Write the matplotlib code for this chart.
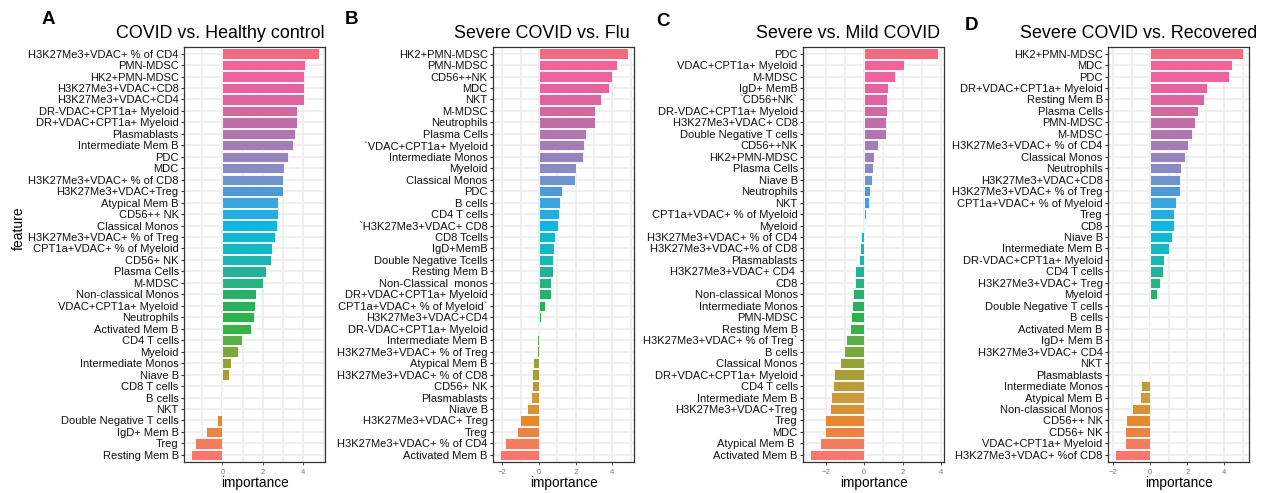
import numpy as np
import matplotlib
matplotlib.use("Agg")
import matplotlib.pyplot as plt
from matplotlib.ticker import MultipleLocator
from matplotlib.colors import LinearSegmentedColormap

plt.rcParams['font.family'] = ['Liberation Sans', 'DejaVu Sans']

# ---------------- data (top to bottom as displayed) ----------------
titles = ["COVID vs. Healthy control", "Severe COVID vs. Flu",
          "Severe vs. Mild COVID", "Severe COVID vs. Recovered"]
letters = ["A", "B", "C", "D"]

labels_A = ["H3K27Me3+VDAC+ % of CD4", "PMN-MDSC", "HK2+PMN-MDSC", "H3K27Me3+VDAC+CD8",
            "H3K27Me3+VDAC+CD4", "DR-VDAC+CPT1a+ Myeloid", "DR+VDAC+CPT1a+ Myeloid",
            "Plasmablasts", "Intermediate Mem B", "PDC", "MDC", "H3K27Me3+VDAC+ % of CD8",
            "H3K27Me3+VDAC+Treg", "Atypical Mem B", "CD56++ NK", "Classical Monos",
            "H3K27Me3+VDAC+ % of Treg", "CPT1a+VDAC+ % of Myeloid", "CD56+ NK",
            "Plasma Cells", "M-MDSC", "Non-classical Monos", "VDAC+CPT1a+ Myeloid",
            "Neutrophils", "Activated Mem B", "CD4 T cells", "Myeloid",
            "Intermediate Monos", "Niave B", "CD8 T cells", "B cells", "NKT",
            "Double Negative T cells", "IgD+ Mem B", "Treg", "Resting Mem B"]
values_A = [4.75, 4.08, 4.05, 4.02, 4.02, 3.68, 3.68, 3.61, 3.47, 3.24, 3.03, 3.01,
            2.97, 2.76, 2.74, 2.72, 2.58, 2.43, 2.40, 2.16, 1.99, 1.65, 1.59, 1.56,
            1.43, 0.99, 0.78, 0.41, 0.32, 0.03, -0.03, -0.01, -0.28, -0.81, -1.36, -1.56]

labels_B = ["HK2+PMN-MDSC", "PMN-MDSC", "CD56++NK", "MDC", "NKT", "M-MDSC", "Neutrophils",
            "Plasma Cells", "`VDAC+CPT1a+ Myeloid", "Intermediate Monos", "Myeloid",
            "Classical Monos", "PDC", "B cells", "CD4 T cells", "`H3K27Me3+VDAC+ CD8",
            "CD8 Tcells", "IgD+MemB", "Double Negative Tcells", "Resting Mem B",
            "Non-Classical  monos", "DR+VDAC+CPT1a+ Myeloid", "CPT1a+VDAC+ % of Myeloid`",
            "H3K27Me3+VDAC+CD4", "DR-VDAC+CPT1a+ Myeloid", "Intermediate Mem B",
            "H3K27Me3+VDAC+ % of Treg", "Atypical Mem B", "H3K27Me3+VDAC+ % of CD8",
            "CD56+ NK", "Plasmablasts", "Niave B", "H3K27Me3+VDAC+ Treg", "Treg",
            "H3K27Me3+VDAC+ % of CD4", "Activated Mem B"]
values_B = [4.85, 4.27, 3.98, 3.84, 3.39, 3.05, 3.05, 2.54, 2.43, 2.38, 2.04, 1.95,
            1.23, 1.14, 1.10, 1.03, 0.85, 0.81, 0.77, 0.76, 0.67, 0.67, 0.32, 0.13,
            0.03, -0.11, -0.13, -0.31, -0.38, -0.40, -0.43, -0.67, -1.03, -1.21,
            -1.86, -2.14]

labels_C = ["PDC", "VDAC+CPT1a+ Myeloid", "M-MDSC", "IgD+ MemB", "`CD56+NK`",
            "DR-VDAC+CPT1a+ Myeloid", "H3K27Me3+VDAC+ CD8", "Double Negative T cells",
            "CD56++NK", "HK2+PMN-MDSC", "Plasma Cells", "Niave B", "Neutrophils", "NKT",
            "CPT1a+VDAC+ % of Myeloid", "Myeloid", "H3K27Me3+VDAC+ % of CD4",
            "H3K27Me3+VDAC+% of CD8", "Plasmablasts", "H3K27Me3+VDAC+ CD4 ", "CD8",
            "Non-classical Monos", "Intermediate Monos", "PMN-MDSC", "Resting Mem B",
            "H3K27Me3+VDAC+ % of Treg`", "B cells", "Classical Monos",
            "DR+VDAC+CPT1a+ Myeloid", "CD4 T cells", "Intermediate Mem B",
            "H3K27Me3+VDAC+Treg", "Treg", "MDC", "Atypical Mem B ", "Activated Mem B"]
values_C = [3.81, 2.07, 1.61, 1.23, 1.21, 1.18, 1.16, 1.13, 0.74, 0.51, 0.48, 0.41,
            0.29, 0.26, 0.09, 0.07, -0.14, -0.21, -0.26, -0.46, -0.48, -0.60, -0.65,
            -0.67, -0.74, -0.96, -1.04, -1.23, -1.54, -1.62, -1.74, -1.79, -2.02,
            -2.05, -2.31, -2.82]

labels_D = ["HK2+PMN-MDSC", "MDC", "PDC", "DR+VDAC+CPT1a+ Myeloid", "Resting Mem B",
            "Plasma Cells", "PMN-MDSC", "M-MDSC", "H3K27Me3+VDAC+ % of CD4",
            "Classical Monos", "Neutrophils", "H3K27Me3+VDAC+CD8",
            "H3K27Me3+VDAC+ % of Treg", "CPT1a+VDAC+ % of Myeloid", "Treg", "CD8",
            "Niave B", "Intermediate Mem B", "DR-VDAC+CPT1a+ Myeloid", "CD4 T cells",
            "H3K27Me3+VDAC+ Treg", "Myeloid", "Double Negative T cells", "B cells",
            "Activated Mem B", "IgD+ Mem B", "H3K27Me3+VDAC+ CD4", "NKT", "Plasmablasts",
            "Intermediate Monos", "Atypical Mem B", "Non-classical Monos", "CD56++ NK",
            "CD56+ NK", "VDAC+CPT1a+ Myeloid", "H3K27Me3+VDAC+ %of CD8"]
values_D = [5.00, 4.40, 4.27, 3.04, 2.88, 2.56, 2.44, 2.24, 2.01, 1.90, 1.67, 1.62,
            1.58, 1.37, 1.26, 1.26, 1.16, 1.00, 0.73, 0.68, 0.50, 0.36, 0.0, 0.0, 0.0,
            0.0, 0.0, -0.02, -0.05, -0.50, -0.57, -0.98, -1.33, -1.39, -1.39, -1.92]

panels = [(labels_A, values_A), (labels_B, values_B), (labels_C, values_C), (labels_D, values_D)]

# ---------------- colour gradient (bottom -> top) ----------------
grad_anchors = [
    (0.000, '#F8766D'), (0.030, '#F07E5A'), (0.085, '#E48A2C'), (0.140, '#CC9A3C'),
    (0.200, '#A89E38'), (0.229, '#95A13A'), (0.257, '#7AA83C'), (0.286, '#5BAE45'),
    (0.320, '#30B248'), (0.343, '#2BB34C'), (0.400, '#2BB06C'), (0.457, '#27B298'),
    (0.514, '#14B8C4'), (0.571, '#0EB6E0'), (0.629, '#3AA6E0'), (0.657, '#4C9AD8'),
    (0.686, '#7092CE'), (0.714, '#8A8AC4'), (0.771, '#A47CB6'), (0.829, '#BE6EA8'),
    (0.886, '#DC64A0'), (0.943, '#EE62A0'), (0.971, '#F0649A'), (1.000, '#EE6B82'),
]
cmap = LinearSegmentedColormap.from_list('grad', grad_anchors)

# ---------------- figure ----------------
W, H = 1265, 493
fig = plt.figure(figsize=(W / 100, H / 100), dpi=100)

lefts = [184.3, 493.3, 803.3, 1108.3]
widths = [140.7, 141.0, 140.7, 141.0]
top_px, bot_px = 46.7, 461.7

title_x = [220, 542, 848, 1139]
letter_x = [48, 352, 663, 972]
letter_y = [20, 19, 21, 25]

for i, (labs, vals) in enumerate(panels):
    ax = fig.add_axes([lefts[i] / W, 1 - bot_px / H, widths[i] / W, (bot_px - top_px) / H])
    n = len(labs)
    cols = [cmap(k / (n - 1)) for k in range(n)]  # bottom bar first
    ylabs = labs[::-1]
    yvals = vals[::-1]
    ax.barh(ylabs, yvals, height=0.9, color=cols, edgecolor='white', linewidth=0.6, zorder=3)
    lo, hi = min(min(vals), 0), max(max(vals), 0)
    pad = 0.05 * (hi - lo)
    ax.set_xlim(lo - pad, hi + pad)
    ax.set_ylim(-0.6, n - 0.4)
    ax.xaxis.set_major_locator(MultipleLocator(2))
    ax.xaxis.set_minor_locator(MultipleLocator(1))
    ax.grid(True, which='major', axis='both', color='#EBEBEB', linewidth=1.1, zorder=0)
    ax.grid(True, which='minor', axis='x', color='#EBEBEB', linewidth=1.1, zorder=0)
    ax.set_axisbelow(True)
    for sp in ax.spines.values():
        sp.set_color('#333333')
        sp.set_linewidth(0.9)
    ax.tick_params(axis='y', length=2.5, width=0.8, color='#333333', labelsize=8.0,
                   labelcolor='#111111', pad=1.5)
    ax.tick_params(axis='x', which='major', length=2.0, width=0.6, color='#333333',
                   labelsize=5.5, labelcolor='#7a7a7a', pad=3.5)
    ax.tick_params(axis='x', which='minor', length=0)
    ax.set_xlabel('importance', fontsize=9.8, color='black', labelpad=0.0)
    ax.set_facecolor('white')
    fig.text(title_x[i] / W, 1 - 33 / H, titles[i], fontsize=12.9, ha='center', va='center')
    fig.text(letter_x[i] / W, 1 - letter_y[i] / H, letters[i], fontsize=13.5,
             fontweight='bold', ha='center', va='center')

fig.text(19 / W, 1 - 228 / H, 'feature', rotation=90, fontsize=10, ha='center', va='center')

fig.savefig('out.png', dpi=100)
